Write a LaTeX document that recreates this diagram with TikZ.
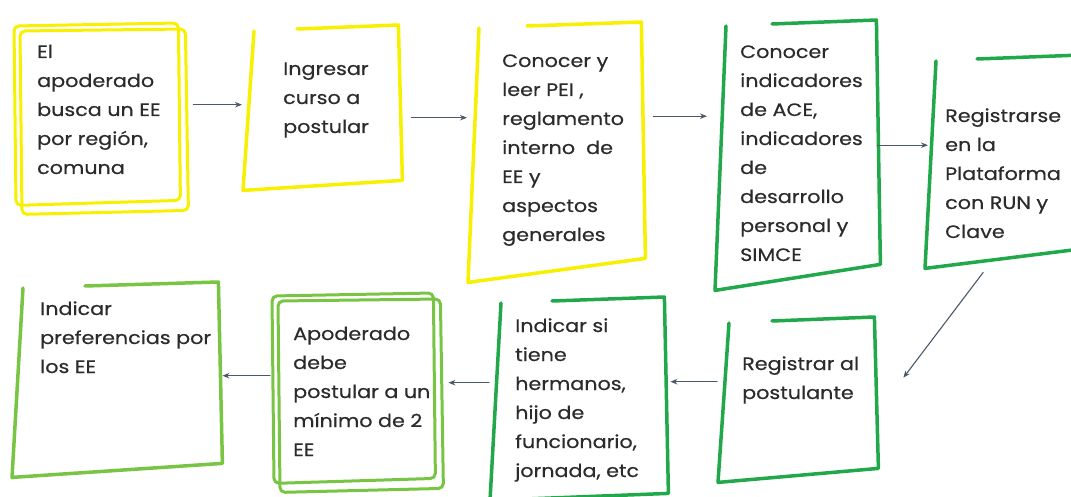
\documentclass[tikz,border=0pt]{standalone}
\usepackage{fontspec}
\setmainfont{Poppins}[FakeBold=0.5, FakeStretch=1.15]
\usetikzlibrary{arrows.meta,calc}
\definecolor{amarillo}{HTML}{F7F000}
\definecolor{verde}{HTML}{20A84A}
\definecolor{verdeclaro}{HTML}{78C443}
\definecolor{gris}{HTML}{4A5868}
\definecolor{tinta}{HTML}{2B2B2B}
% texto en varias lineas
\newcommand{\renglones}[1]{\begin{tabular}[t]{@{}l@{}}#1\end{tabular}}
% borde a mano alzada: nodo, color, inicio del borde superior, caida abajo
\newcommand{\boceto}[4]{%
  \draw[trazo,#2] ([shift={(#3,4)}]#1.north west) -- ([shift={(-4,0)}]#1.north east)
    -- ([shift={(0,-#4)}]#1.south east) -- (#1.south west) -- ([shift={(11,6)}]#1.north west);}
% borde doble
\newcommand{\doble}[2]{%
  \draw[trazo,#2,line width=3pt,rounded corners=5pt] ([shift={(0,3)}]#1.north west) -- ([shift={(-10,0)}]#1.north east)
    -- ([shift={(-8,-14)}]#1.south east) -- ([shift={(2,-9)}]#1.south west) -- cycle;
  \draw[trazo,#2,line width=3pt,rounded corners=5pt] ([shift={(6,8)}]#1.north west) -- ([shift={(-3,6)}]#1.north east)
    -- ([shift={(0,-4)}]#1.south east) -- ([shift={(8,0)}]#1.south west) -- cycle;}
\begin{document}
\begin{tikzpicture}[x=1pt, y=-1pt, >={Stealth[length=7pt,width=5.5pt]}, line join=round, line cap=round,
    caja/.style n args={2}{minimum width=#1, minimum height=#2, anchor=north west, inner sep=0pt},
    txt/.style={anchor=base west, inner sep=0pt, text=tinta, font=\fontsize{18}{29}\selectfont},
    trazo/.style={line width=3.5pt},
    flecha/.style={->, gris, line width=1.1pt}]
    \useasboundingbox (0,0) rectangle (1071,497);
    % fila de arriba
    \node[caja={174pt}{191pt}] (b1) at (14,23) {};
    \node[caja={159pt}{165pt}] (b2) at (243,25) {};
    \node[caja={177pt}{260pt}] (b3) at (468,22) {};
    \node[caja={165pt}{270pt}] (b4) at (715,20) {};
    \node[caja={160pt}{213pt}] (b5) at (925,55) {};
    % fila de abajo
    \node[caja={160pt}{165pt}] (b6) at (718,317) {};
    \node[caja={178pt}{203pt}] (b7) at (490,297) {};
    \node[caja={171pt}{199pt}] (b8) at (272,293) {};
    \node[caja={210pt}{195pt}] (b9) at (12,282) {};
    \doble{b1}{amarillo}
    \boceto{b2}{amarillo}{54}{10}
    \boceto{b3}{amarillo}{59}{24}
    \boceto{b4}{verde}{57}{26}
    \boceto{b5}{verde}{52}{20}
    \boceto{b6}{verde}{54}{14}
    \boceto{b7}{verde}{62}{7}
    \doble{b8}{verdeclaro}
    \boceto{b9}{verdeclaro}{73}{14}
    % textos
    \node[txt] (t1) at ([shift={(23,35)}]b1.north west) {\renglones{El\\apoderado\\busca un EE\\por región,\\comuna}};
    \node[txt] (t2) at ([shift={(40,50)}]b2.north west) {\renglones{Ingresar\\curso a\\postular}};
    \node[txt] (t3) at ([shift={(34,45)}]b3.north west) {\renglones{Conocer y\\leer PEI ,\\reglamento\\interno~ de\\EE y\\aspectos\\generales}};
    \node[txt] (t4) at ([shift={(25,38)}]b4.north west) {\renglones{Conocer\\indicadores\\de ACE,\\indicadores\\de\\desarrollo\\personal y\\SIMCE}};
    \node[txt] (t5) at ([shift={(20,67)}]b5.north west) {\renglones{Registrarse\\en la\\Plataforma\\con RUN y\\Clave}};
    \node[txt] (t6) at ([shift={(24,53)}]b6.north west) {\renglones{Registrar al\\postulante}};
    \node[txt] (t7) at ([shift={(25,35)}]b7.north west) {\renglones{Indicar si\\tiene\\hermanos,\\hijo de\\funcionario,\\jornada, etc}};
    \node[txt] (t8) at ([shift={(21,47)}]b8.north west) {\renglones{Apoderado\\debe\\postular a un\\mínimo de 2\\EE}};
    \node[txt] (t9) at ([shift={(28,33)}]b9.north west) {\renglones{Indicar\\preferencias por\\los EE}};
    % flechas
    \draw[flecha, shorten <=5pt, shorten >=1pt] ([shift={(0,-14)}]b1.east) -- ([shift={(0,-14)}]b1.east -| b2.west);
    \draw[flecha, shorten <=9pt, shorten >=1pt] ([shift={(0,10)}]b2.east) -- ([shift={(0,10)}]b2.east -| b3.west);
    \draw[flecha, shorten <=8pt, shorten >=8pt] ([shift={(0,-36)}]b3.east) -- ([shift={(0,-36)}]b3.east -| b4.west);
    \draw[flecha, shorten <=-3pt, shorten >=-3pt] ([shift={(0,-10)}]b4.east) -- ([shift={(0,-10)}]b4.east -| b5.west);
    \draw[flecha] ([shift={(-22,4)}]b5.south) -- ([shift={(25,-22)}]b6.east);
    \draw[flecha, shorten <=1pt, shorten >=2pt] ([shift={(0,-18)}]b6.west) -- ([shift={(0,-18)}]b6.west -| b7.east);
    \draw[flecha, shorten <=1pt, shorten >=5pt] ([shift={(0,-16)}]b7.west) -- ([shift={(0,-16)}]b7.west -| b8.east);
    \draw[flecha, shorten <=2pt, shorten >=0pt] ([shift={(0,-17)}]b8.west) -- ([shift={(0,-17)}]b8.west -| b9.east);
\end{tikzpicture}
\end{document}
